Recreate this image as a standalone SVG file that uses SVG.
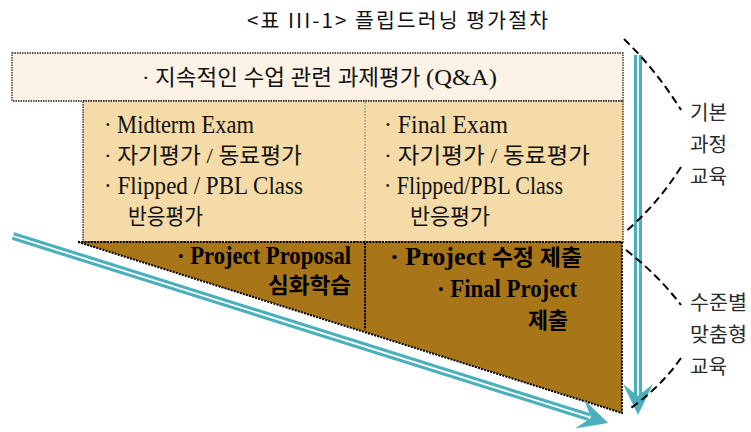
<svg xmlns="http://www.w3.org/2000/svg" width="751" height="432" viewBox="0 0 751 432">
<defs>
<style>
.title{font-family:"Noto Sans CJK KR","Noto Sans",sans-serif;font-size:20.5px;fill:#111}
.t{font-family:"Liberation Serif","Noto Sans CJK KR",serif;font-size:22px;fill:#111}
.tb{font-family:"Liberation Serif","Noto Sans CJK KR",serif;font-size:22px;font-weight:bold;fill:#000}
.L{font-size:25px}
.lab{font-family:"Noto Sans CJK KR","Noto Sans",sans-serif;font-size:20px;fill:#2a2a2a}
.dot{stroke:#222;stroke-width:1.3;stroke-dasharray:1.5 1}
.dotg{fill:none;stroke:#8a8a8a;stroke-width:1.3;stroke-dasharray:1.5 1.5}
.dotb{fill:none;stroke:#000;stroke-width:2;stroke-dasharray:2 1.2}
.teal{stroke:#4BB0BC;stroke-width:8;fill:none}
.gap{stroke:#fff;stroke-width:1.8;fill:none}
.head{fill:#4BB0BC}
.dash{fill:none;stroke:#000;stroke-width:2;stroke-dasharray:8 4.5}
</style>
</defs>
<rect width="751" height="432" fill="#fff"/>

<text id="title" class="title" x="247" y="28" textLength="301" lengthAdjust="spacing">&lt;표 III-1&gt; 플립드러닝 평가절차</text>

<g id="top-box">
<rect x="12" y="53" width="611" height="48" fill="#FCF3E6" class="dot"/>
<text class="t" x="142" y="85" font-size="21" textLength="355" lengthAdjust="spacingAndGlyphs">· 지속적인 수업 관련 과제평가 <tspan font-size="24">(Q&amp;A)</tspan></text>
</g>

<g id="basic-box">
<rect x="83" y="101" width="540" height="141" fill="#F5DBA7" class="dot"/>
<line x1="365" y1="102" x2="365" y2="241" class="dotg"/>
</g>

<g id="basic-left">
<text class="t L" x="104" y="133" textLength="150" lengthAdjust="spacingAndGlyphs">· Midterm Exam</text>
<text class="t" x="104" y="163" textLength="198" lengthAdjust="spacingAndGlyphs">· 자기평가 / 동료평가</text>
<text class="t L" x="104" y="194" textLength="199" lengthAdjust="spacingAndGlyphs">· Flipped / PBL Class</text>
<text class="t" x="128" y="224" textLength="75" lengthAdjust="spacingAndGlyphs">반응평가</text>
</g>

<g id="basic-right">
<text class="t L" x="384" y="133" textLength="124" lengthAdjust="spacingAndGlyphs">· Final Exam</text>
<text class="t" x="384" y="163" textLength="206" lengthAdjust="spacingAndGlyphs">· 자기평가 / 동료평가</text>
<text class="t L" x="384" y="194" textLength="179" lengthAdjust="spacingAndGlyphs">· Flipped/PBL Class</text>
<text class="t" x="410" y="224" textLength="80" lengthAdjust="spacingAndGlyphs">반응평가</text>
</g>

<g id="advanced-box">
<polygon points="78,242 622,242 622,413" fill="#A87618"/>
<polyline points="78,242 622,242 622,413 78,242" class="dotb"/>
<line x1="365" y1="243" x2="365" y2="330" class="dotb"/>
</g>

<g id="advanced-left">
<text class="tb L" x="177" y="264" textLength="174" lengthAdjust="spacingAndGlyphs">· Project Proposal</text>
<text class="tb" x="268" y="293" textLength="83" lengthAdjust="spacingAndGlyphs">심화학습</text>
</g>

<g id="advanced-right">
<text class="tb" x="390" y="265" textLength="192" lengthAdjust="spacingAndGlyphs"><tspan font-size="25">· Project</tspan> 수정 제출</text>
<text class="tb L" x="437" y="297" textLength="140" lengthAdjust="spacingAndGlyphs">· Final Project</text>
<text class="tb" x="528" y="328" textLength="40" lengthAdjust="spacingAndGlyphs">제출</text>
</g>

<g id="connectors">
<g id="arrow-diagonal" transform="translate(13,236) rotate(17.45)">
<line x1="0" y1="0" x2="604" y2="0" class="teal"/>
<line x1="0" y1="0" x2="604" y2="0" class="gap"/>
<polygon points="624,0 594,-15 606,0 594,15" class="head"/>
</g>
<g id="arrow-vertical">
<line x1="638" y1="55" x2="638" y2="400" class="teal"/>
<line x1="638" y1="55" x2="638" y2="400" class="gap"/>
<polygon points="638,415 623,384 638,396 653,384" class="head"/>
</g>
<path class="dash" d="M624,39 Q656,70 681,110"/>
<path class="dash" d="M681,167 Q657,205 625,232"/>
<path class="dash" d="M626,250 Q658,275 681,305"/>
<path class="dash" d="M681,358 Q660,388 628,410"/>
</g>

<g id="label-basic">
<text class="lab" x="690" y="120" textLength="37" lengthAdjust="spacingAndGlyphs">기본</text>
<text class="lab" x="690" y="152" textLength="37" lengthAdjust="spacingAndGlyphs">과정</text>
<text class="lab" x="690" y="184" textLength="37" lengthAdjust="spacingAndGlyphs">교육</text>
</g>
<g id="label-advanced">
<text class="lab" x="690" y="310" textLength="57" lengthAdjust="spacingAndGlyphs">수준별</text>
<text class="lab" x="690" y="342" textLength="57" lengthAdjust="spacingAndGlyphs">맞춤형</text>
<text class="lab" x="690" y="374" textLength="37" lengthAdjust="spacingAndGlyphs">교육</text>
</g>
</svg>
